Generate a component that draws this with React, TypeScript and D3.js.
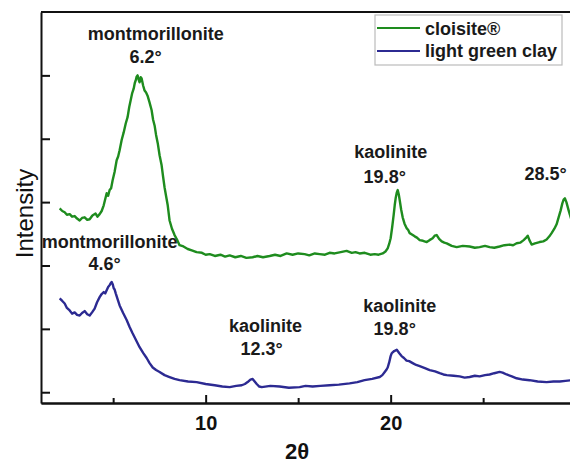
import React, { useEffect, useRef } from 'react'
import * as d3 from 'd3'

// 2θ / intensity (a.u.)
const cloisiteX = [2.11, 2.25, 2.38, 2.5, 2.65, 2.78, 2.92, 3.05, 3.19, 3.32, 3.46, 3.6, 3.73, 3.88, 4.05, 4.15, 4.27, 4.38, 4.49, 4.65, 4.73, 4.81, 4.89, 4.97, 5.08, 5.19, 5.27, 5.35, 5.46, 5.57, 5.68, 5.78, 5.87, 5.95, 6.03, 6.11, 6.17, 6.22, 6.27, 6.32, 6.38, 6.43, 6.49, 6.54, 6.62, 6.70, 6.78, 6.86, 6.97, 7.08, 7.16, 7.24, 7.32, 7.41, 7.51, 7.62, 7.70, 7.78, 7.87, 7.95, 8.05, 8.18, 8.32, 8.45, 8.59, 8.80, 9.03, 9.25, 9.51, 9.8, 10.0, 10.22, 10.5, 10.8, 11.05, 11.30, 11.6, 11.9, 12.2, 12.54, 12.8, 13.1, 13.46, 13.75, 14.05, 14.38, 14.7, 15.0, 15.35, 15.6, 15.9, 16.16, 16.45, 16.7, 16.97, 17.3, 17.62, 17.9, 18.1, 18.32, 18.6, 18.9, 19.14, 19.35, 19.57, 19.72, 19.84, 19.92, 20.0, 20.08, 20.16, 20.22, 20.27, 20.33, 20.38, 20.44, 20.49, 20.57, 20.65, 20.75, 20.86, 20.95, 21.03, 21.15, 21.30, 21.42, 21.57, 21.75, 21.95, 22.1, 22.27, 22.38, 22.49, 22.62, 22.76, 22.9, 23.03, 23.3, 23.57, 23.9, 24.27, 24.55, 24.81, 25.1, 25.35, 25.6, 25.89, 26.15, 26.43, 26.62, 26.81, 27.0, 27.19, 27.3, 27.41, 27.5, 27.62, 27.8, 28.05, 28.25, 28.43, 28.58, 28.70, 28.85, 28.97, 29.08, 29.19, 29.28, 29.35, 29.42, 29.50, 29.62, 29.78]
const cloisiteY = [2.90, 2.86, 2.84, 2.80, 2.81, 2.77, 2.78, 2.74, 2.71, 2.75, 2.76, 2.72, 2.73, 2.79, 2.82, 2.77, 2.81, 2.86, 2.95, 3.14, 3.10, 3.19, 3.22, 3.34, 3.48, 3.66, 3.72, 3.82, 3.98, 4.10, 4.24, 4.34, 4.50, 4.61, 4.72, 4.79, 4.88, 4.92, 4.98, 5.00, 4.93, 4.89, 4.97, 4.95, 4.84, 4.76, 4.73, 4.68, 4.57, 4.45, 4.30, 4.21, 4.06, 3.93, 3.74, 3.58, 3.40, 3.23, 3.08, 2.95, 2.71, 2.58, 2.48, 2.41, 2.32, 2.30, 2.26, 2.24, 2.21, 2.20, 2.17, 2.18, 2.15, 2.17, 2.14, 2.16, 2.13, 2.15, 2.12, 2.13, 2.15, 2.13, 2.15, 2.17, 2.15, 2.19, 2.17, 2.19, 2.18, 2.16, 2.19, 2.18, 2.17, 2.20, 2.19, 2.21, 2.23, 2.20, 2.21, 2.19, 2.20, 2.17, 2.18, 2.17, 2.19, 2.22, 2.27, 2.34, 2.43, 2.60, 2.79, 2.95, 3.06, 3.15, 3.19, 3.12, 3.03, 2.88, 2.76, 2.66, 2.59, 2.56, 2.51, 2.49, 2.46, 2.44, 2.40, 2.39, 2.37, 2.40, 2.43, 2.47, 2.48, 2.42, 2.38, 2.36, 2.35, 2.31, 2.29, 2.31, 2.30, 2.28, 2.29, 2.31, 2.29, 2.28, 2.30, 2.32, 2.33, 2.32, 2.35, 2.36, 2.40, 2.43, 2.47, 2.40, 2.33, 2.35, 2.37, 2.38, 2.41, 2.46, 2.51, 2.58, 2.65, 2.76, 2.87, 2.98, 3.04, 3.06, 3.00, 2.87, 2.71]

const clayX = [2.11, 2.25, 2.38, 2.5, 2.65, 2.78, 2.92, 3.05, 3.19, 3.32, 3.46, 3.6, 3.73, 3.86, 4.0, 4.13, 4.27, 4.38, 4.49, 4.57, 4.65, 4.73, 4.81, 4.87, 4.92, 4.98, 5.03, 5.08, 5.14, 5.24, 5.35, 5.54, 5.73, 5.89, 6.05, 6.24, 6.43, 6.62, 6.81, 6.97, 7.14, 7.32, 7.51, 7.78, 8.05, 8.32, 8.59, 9.05, 9.51, 10.0, 10.49, 10.9, 11.30, 11.65, 11.95, 12.12, 12.27, 12.42, 12.54, 12.65, 12.76, 12.9, 13.03, 13.5, 14.0, 14.5, 15.08, 15.4, 15.78, 16.2, 16.70, 17.2, 17.78, 18.2, 18.59, 19.0, 19.41, 19.55, 19.68, 19.76, 19.84, 19.92, 20.0, 20.05, 20.11, 20.19, 20.27, 20.33, 20.38, 20.48, 20.59, 20.72, 20.86, 21.0, 21.19, 21.38, 21.57, 21.85, 22.11, 22.4, 22.65, 22.85, 23.03, 23.4, 23.73, 24.0, 24.27, 24.55, 24.81, 25.1, 25.35, 25.6, 25.89, 26.05, 26.27, 26.55, 26.81, 27.15, 27.51, 27.95, 28.43, 28.8, 29.14, 29.45, 29.78]
const clayY = [1.48, 1.44, 1.40, 1.33, 1.29, 1.24, 1.26, 1.22, 1.21, 1.25, 1.28, 1.23, 1.21, 1.26, 1.32, 1.42, 1.50, 1.55, 1.58, 1.56, 1.61, 1.66, 1.69, 1.72, 1.74, 1.70, 1.64, 1.62, 1.56, 1.47, 1.37, 1.25, 1.14, 1.03, 0.93, 0.82, 0.71, 0.62, 0.54, 0.46, 0.39, 0.35, 0.32, 0.27, 0.24, 0.21, 0.19, 0.17, 0.16, 0.13, 0.11, 0.09, 0.08, 0.10, 0.11, 0.13, 0.16, 0.20, 0.21, 0.17, 0.13, 0.09, 0.08, 0.10, 0.09, 0.07, 0.08, 0.10, 0.09, 0.10, 0.11, 0.12, 0.14, 0.16, 0.19, 0.21, 0.24, 0.27, 0.32, 0.35, 0.39, 0.47, 0.57, 0.61, 0.63, 0.65, 0.66, 0.67, 0.65, 0.61, 0.57, 0.54, 0.50, 0.49, 0.46, 0.43, 0.41, 0.38, 0.35, 0.33, 0.30, 0.28, 0.27, 0.26, 0.25, 0.23, 0.24, 0.26, 0.25, 0.27, 0.28, 0.30, 0.32, 0.31, 0.28, 0.25, 0.22, 0.20, 0.19, 0.17, 0.16, 0.17, 0.17, 0.18, 0.19]

const seriesNames = ['cloisite®', 'light green clay']
const seriesColors = ['#1e8c1e', '#2c2a92']

const xMajor = [10, 20]
const xMinor = [5, 15, 25]
const yTicks = [0, 1, 2, 3, 4, 5]

// peak labels, anchored in data units
const labelText = ['montmorillonite', '6.2°', 'montmorillonite', '4.6°', 'kaolinite', '19.8°', '28.5°', 'kaolinite', '12.3°', 'kaolinite', '19.8°']
const labelX = [7.30, 6.76, 4.81, 4.54, 20.0, 19.68, 28.38, 13.24, 13.03, 20.49, 20.22]
const labelY = [5.56, 5.19, 2.27, 1.93, 3.69, 3.30, 3.35, 0.95, 0.59, 1.27, 0.90]

const font = 'Liberation Sans, Arial, Helvetica, sans-serif'

const App = () => {
    const ref = useRef<HTMLDivElement>(null)

    useEffect(() => {
        d3.select(ref.current).selectAll('svg').remove()

        const width = 570
        const height = 465
        const left = 41
        const top = 12
        const bottom = 403

        const svg = d3.select(ref.current)
            .append('svg')
            .attr('width', width)
            .attr('height', height)
            .style('position', 'absolute')
            .style('left', 0)
            .style('top', 0)
            .style('background', '#fff')

        const x = d3.scaleLinear().domain([1.1, 30.6]).range([left, left + 29.5 * 18.5])
        const y = d3.scaleLinear().domain([-0.17, 6.0]).range([bottom, top])

        const line = d3.line<[number, number]>()
            .x(d => x(d[0]))
            .y(d => y(d[1]))

        const series = [
            d3.zip(cloisiteX, cloisiteY) as [number, number][],
            d3.zip(clayX, clayY) as [number, number][],
        ]

        svg.selectAll('.series')
            .data(series)
            .join('path')
            .attr('class', 'series')
            .attr('d', d => line(d))
            .attr('fill', 'none')
            .attr('stroke', (d, i) => seriesColors[i])
            .attr('stroke-width', 2.4)
            .attr('stroke-linejoin', 'round')

        // axes, ticks pointing inward
        const xAxisMajor = svg.append('g')
            .attr('transform', `translate(0,${bottom})`)
            .call(d3.axisBottom(x).tickValues(xMajor).tickSizeInner(-8).tickSizeOuter(0).tickPadding(13))
        const xAxisMinor = svg.append('g')
            .attr('transform', `translate(0,${bottom})`)
            .call(d3.axisBottom(x).tickValues(xMinor).tickSizeInner(-5).tickSizeOuter(0).tickFormat(() => ''))
        const yAxis = svg.append('g')
            .attr('transform', `translate(${left},0)`)
            .call(d3.axisLeft(y).tickValues(yTicks).tickSizeInner(-9).tickSizeOuter(0).tickFormat(() => ''))

        for (const g of [xAxisMajor, xAxisMinor, yAxis]) {
            g.selectAll('path, line').attr('stroke', '#111').attr('stroke-width', 2)
            g.selectAll('text')
                .attr('fill', '#111')
                .attr('font-family', font)
                .attr('font-weight', 'bold')
                .attr('font-size', 20)
        }

        svg.append('line')
            .attr('x1', left).attr('x2', width)
            .attr('y1', top).attr('y2', top)
            .attr('stroke', '#111')
            .attr('stroke-width', 2)

        // axis titles
        svg.append('text')
            .attr('transform', `translate(33,${(top + bottom) / 2 + 6}) rotate(-90)`)
            .attr('text-anchor', 'middle')
            .attr('font-family', font)
            .attr('font-size', 24)
            .attr('fill', '#111')
            .text('Intensity')

        svg.append('text')
            .attr('x', 297)
            .attr('y', 459)
            .attr('text-anchor', 'middle')
            .attr('font-family', font)
            .attr('font-weight', 'bold')
            .attr('font-size', 22)
            .attr('fill', '#111')
            .text('2θ')

        // peak labels
        svg.selectAll('.peak')
            .data(labelText)
            .join('text')
            .attr('class', 'peak')
            .attr('x', (d, i) => x(labelX[i]))
            .attr('y', (d, i) => y(labelY[i]))
            .attr('text-anchor', 'middle')
            .attr('font-family', font)
            .attr('font-weight', 'bold')
            .attr('font-size', 18)
            .attr('fill', '#1a1a1a')
            .text(d => d)

        // legend
        const legend = svg.append('g')
        legend.append('rect')
            .attr('x', 375).attr('y', 15)
            .attr('width', 187).attr('height', 50)
            .attr('fill', '#fff')
            .attr('stroke', '#bbb')
            .attr('stroke-width', 1.2)
        seriesNames.forEach((name, i) => {
            legend.append('line')
                .attr('x1', 377).attr('x2', 420)
                .attr('y1', 28 + i * 23).attr('y2', 28 + i * 23)
                .attr('stroke', seriesColors[i])
                .attr('stroke-width', 2)
            legend.append('text')
                .attr('x', 425)
                .attr('y', 35 + i * 22)
                .attr('font-family', font)
                .attr('font-weight', 'bold')
                .attr('font-size', 18)
                .attr('fill', '#1a1a1a')
                .text(name)
        })
    }, [])

    return <div ref={ref} />
}

export default App
